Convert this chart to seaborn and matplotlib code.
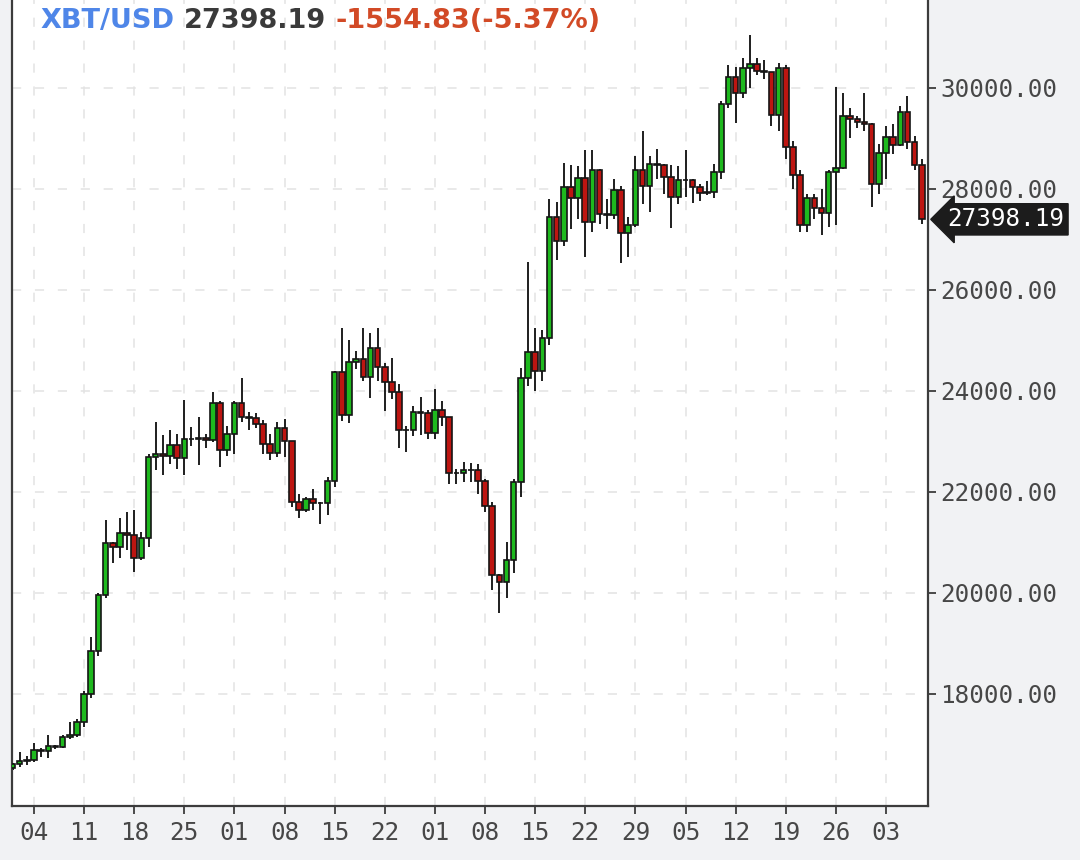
import matplotlib
matplotlib.use("Agg")
import matplotlib.pyplot as plt
import matplotlib.dates as mdates
import matplotlib.ticker as mticker
import matplotlib.transforms as mtransforms
from matplotlib.offsetbox import AnchoredOffsetbox, HPacker, TextArea
import numpy as np
import pandas as pd
import seaborn as sns

# Daily XBT/USD candles, 2023-01-01 .. 2023-05-08
FIRST_DAY = "2023-01-01"
LAST_DAY = "2023-05-08"

opens = [
    16540, 16610, 16680, 16690, 16880, 16860, 16960, 16950, 17140, 17190,
    17450, 18000, 18850, 19950, 20980, 20900, 21180, 21150, 20700, 21080,
    22700, 22760, 22720, 22930, 22670, 23050, 23040, 23060, 23030, 23760,
    22830, 23140, 23760, 23490, 23460, 23340, 22940, 22770, 23260, 23000,
    21800, 21650, 21850, 21780, 21790, 22220, 24380, 23530, 24570, 24630,
    24280, 24850, 24480, 24180, 23980, 23230, 23220, 23580, 23560, 23170,
    23630, 23490, 22380, 22370, 22440, 22430, 22220, 21730, 20360, 20210,
    20650, 22200, 24250, 24780, 24400, 25050, 27450, 26960, 28040, 27830,
    28210, 27340, 28370, 27510, 27490, 27980, 27130, 27290, 28370, 28060,
    28490, 28470, 28230, 27840, 28180, 28170, 28040, 27920, 27940, 28330,
    29680, 30220, 29900, 30400, 30480, 30330, 30320, 29460, 30400, 28830,
    28280, 27290, 27820, 27620, 27520, 28340, 28420, 29450, 29380, 29330,
    29280, 28100, 28710, 29030, 28870, 29520, 28930, 28470,
]
highs = [
    16640, 16850, 16780, 17030, 16920, 17190, 16990, 17180, 17450, 17500,
    18050, 19130, 19990, 21450, 21000, 21480, 21600, 21650, 21200, 22750,
    23380, 23130, 23230, 23150, 23820, 23280, 23490, 23150, 23980, 23800,
    23300, 23810, 24250, 23590, 23570, 23430, 23150, 23380, 23450, 23000,
    21950, 21900, 22050, 21800, 22300, 24400, 25250, 25000, 24800, 25250,
    25150, 25250, 24560, 24650, 24140, 23300, 23700, 23880, 23620, 24040,
    23800, 23490, 22450, 22600, 22580, 22550, 22260, 21800, 20380, 21000,
    22250, 24450, 26550, 25250, 25200, 27800, 27750, 28510, 28480, 28450,
    28770, 28780, 28400, 27800, 28200, 28050, 27450, 28650, 29150, 28650,
    28800, 28500, 28480, 28450, 28770, 28200, 28100, 28150, 28500, 29750,
    30450, 30420, 30600, 31050, 30600, 30550, 30320, 30500, 30450, 28950,
    28380, 27900, 27900, 28000, 28380, 30020, 29900, 29600, 29450, 29900,
    29300, 28900, 29250, 29280, 29650, 29850, 29050, 28600,
]
lows = [
    16500, 16550, 16600, 16660, 16760, 16730, 16900, 16920, 17100, 17150,
    17350, 17920, 18750, 19900, 20590, 20700, 20850, 20420, 20650, 20900,
    22440, 22330, 22550, 22450, 22330, 22900, 22530, 22870, 22980, 22490,
    22720, 22760, 23380, 23230, 23260, 22750, 22630, 22700, 22700, 21700,
    21490, 21600, 21650, 21360, 21550, 22100, 23400, 23370, 24430, 24200,
    23860, 24200, 23600, 23850, 22870, 22800, 23100, 23120, 23050, 23050,
    23300, 22150, 22150, 22200, 22200, 21950, 21600, 20050, 19600, 19900,
    20400, 21900, 24100, 24000, 24200, 24900, 26600, 26880, 27200, 27400,
    26650, 27150, 27300, 27200, 27400, 26530, 26650, 27250, 27700, 27550,
    28200, 27900, 27230, 27700, 27850, 27720, 27770, 27880, 27820, 28200,
    29600, 29300, 29800, 30000, 30250, 30180, 29250, 29150, 28600, 28000,
    27150, 27150, 27400, 27090, 27250, 27290, 28400, 29000, 29200, 29150,
    27640, 27900, 28200, 28700, 28850, 28800, 28370, 27300,
]
closes = [
    16610, 16680, 16690, 16880, 16860, 16960, 16950, 17140, 17190, 17450,
    18000, 18850, 19950, 20980, 20900, 21180, 21150, 20700, 21080, 22700,
    22760, 22720, 22930, 22670, 23050, 23040, 23060, 23030, 23760, 22830,
    23140, 23760, 23490, 23460, 23340, 22940, 22770, 23260, 23000, 21800,
    21650, 21850, 21780, 21790, 22220, 24380, 23530, 24570, 24630, 24280,
    24850, 24480, 24180, 23980, 23230, 23220, 23580, 23560, 23170, 23630,
    23490, 22380, 22370, 22440, 22430, 22220, 21730, 20360, 20210, 20650,
    22200, 24250, 24780, 24400, 25050, 27450, 26960, 28040, 27830, 28210,
    27340, 28370, 27510, 27490, 27980, 27130, 27290, 28370, 28060, 28490,
    28470, 28230, 27840, 28180, 28170, 28040, 27920, 27940, 28330, 29680,
    30220, 29900, 30400, 30480, 30330, 30320, 29460, 30400, 28830, 28280,
    27290, 27820, 27620, 27520, 28340, 28420, 29450, 29380, 29330, 29280,
    28100, 28710, 29030, 28870, 29520, 28930, 28470, 27398.19,
]

PAIR = "XBT/USD"
LAST_PRICE = "27398.19"
CHANGE_TEXT = "-1554.83(-5.37%)"
Y_TICKS = [18000, 20000, 22000, 24000, 26000, 28000, 30000]

UP_COLOR = "#1eb91e"
DOWN_COLOR = "#bd1511"
EDGE = "#151515"
AXIS_GREY = "#3c3c3c"

sns.set_theme(style="white")
plt.rcParams["font.family"] = ["DejaVu Sans"]

df = pd.DataFrame({
    "date": pd.date_range(FIRST_DAY, LAST_DAY, freq="D"),
    "open": opens, "high": highs, "low": lows, "close": closes,
})
df["x"] = mdates.date2num(df["date"])
up = df["close"] >= df["open"]

fig = plt.figure(figsize=(10.8, 8.6), dpi=100, facecolor="#f1f2f4")
ax = fig.add_axes([12 / 1080, 54 / 860, 916 / 1080, 806 / 860])
ax.set_facecolor("white")

# wicks then bodies
ax.vlines(df["x"], df["low"], df["high"], color="#1e1e1e", lw=1.4, zorder=2)
ax.bar(df["x"], (df["close"] - df["open"]).abs(),
       bottom=df[["open", "close"]].min(axis=1), width=0.78,
       color=np.where(up, UP_COLOR, DOWN_COLOR), edgecolor=EDGE,
       linewidth=1.2, zorder=3)

ax.set_xlim(df["x"].iloc[0] - 0.07, df["x"].iloc[-1] + 0.87)
ax.set_ylim(15780, 31742)

ax.xaxis.set_major_locator(mdates.WeekdayLocator(byweekday=mdates.WE))
ax.xaxis.set_major_formatter(mdates.DateFormatter("%d"))
ax.yaxis.tick_right()
ax.set_yticks(Y_TICKS)
ax.yaxis.set_major_formatter(mticker.StrMethodFormatter("{x:.2f}"))
ax.tick_params(axis="both", direction="out", length=6, width=1.3,
               colors=AXIS_GREY, labelcolor="#474747", labelsize=17.5,
               labelfontfamily="DejaVu Sans Mono")
ax.tick_params(axis="y", pad=3, right=True, left=False)
ax.tick_params(axis="x", pad=5, bottom=True)

ax.grid(True, color="#e3e3e3", linestyle=(0, (6, 9)), linewidth=1.1, zorder=0)

for side in ("left", "bottom", "right"):
    ax.spines[side].set_visible(True)
    ax.spines[side].set_color(AXIS_GREY)
    ax.spines[side].set_linewidth(1.6)
ax.spines["top"].set_visible(False)

# header: pair, last price, change
parts = [(PAIR, "#4f86e8"), (LAST_PRICE, "#3a3a3a"), (CHANGE_TEXT, "#d24a26")]
boxes = [TextArea(t, textprops=dict(color=c, fontsize=19.5, fontweight="bold",
                                    family="DejaVu Sans")) for t, c in parts]
header = AnchoredOffsetbox(loc="center left", child=HPacker(children=boxes, sep=7, pad=0),
                           bbox_to_anchor=(40 / 1080, 1 - 21 / 860),
                           bbox_transform=fig.transFigure, frameon=False,
                           pad=0, borderpad=0)
ax.add_artist(header)

# last price tag on the right axis
trans = mtransforms.blended_transform_factory(ax.transAxes, ax.transData)
ax.annotate(LAST_PRICE, xy=(1.0, closes[-1]), xycoords=trans,
            xytext=(14, 0), textcoords="offset points",
            ha="left", va="center", color="white", fontsize=17.5,
            family="DejaVu Sans Mono", annotation_clip=False,
            bbox=dict(boxstyle="larrow,pad=0.15", fc="#1c1c1c", ec="#1c1c1c"))

fig.savefig("out.png", dpi=100, facecolor=fig.get_facecolor())
